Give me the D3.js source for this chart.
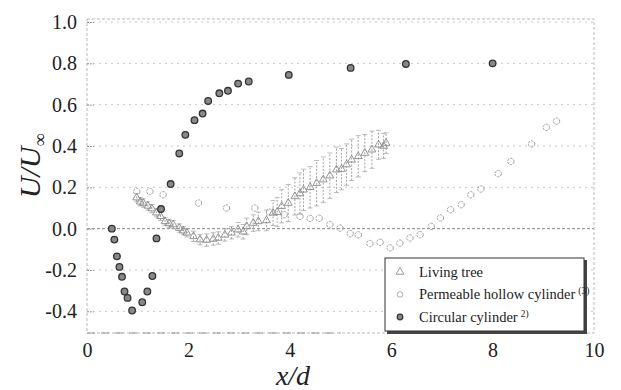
<!DOCTYPE html>
<html><head><meta charset="utf-8">
<script src="https://cdn.jsdelivr.net/npm/d3@7/dist/d3.min.js"></script>
<style>body{margin:0;background:#fff}svg{display:block}svg text{font-family:"Liberation Serif","Times New Roman","DejaVu Serif",serif}</style>
</head><body>
<svg id="c" width="621" height="390"></svg>
<script>
// Living tree (triangles) with error bars
const treeX = [0.98,1.05,1.11,1.20,1.28,1.37,1.45,1.54,1.62,1.70,1.82,1.90,1.97,2.10,2.23,2.36,2.49,2.59,2.72,2.85,2.98,3.08,3.15,3.28,3.38,3.54,3.67,3.75,3.84,3.97,4.10,4.20,4.27,4.40,4.53,4.66,4.79,4.92,5.02,5.12,5.22,5.35,5.48,5.62,5.75,5.85,5.90];
const treeY = [0.15,0.13,0.124,0.11,0.097,0.077,0.06,0.035,0.025,0.02,0.003,-0.01,-0.02,-0.037,-0.053,-0.055,-0.05,-0.045,-0.03,-0.02,-0.005,-0.015,0.011,0.027,0.035,0.04,0.076,0.08,0.108,0.124,0.156,0.17,0.188,0.20,0.22,0.237,0.256,0.285,0.288,0.31,0.333,0.35,0.366,0.382,0.406,0.40,0.414];
const treeErr = [0.02,0.02,0.02,0.02,0.02,0.02,0.02,0.02,0.02,0.02,0.02,0.02,0.02,0.025,0.025,0.03,0.03,0.03,0.03,0.03,0.035,0.035,0.04,0.04,0.045,0.05,0.06,0.07,0.08,0.09,0.09,0.1,0.1,0.1,0.11,0.11,0.11,0.11,0.1,0.1,0.1,0.1,0.09,0.09,0.07,0.06,0.05];
// Permeable hollow cylinder (open circles)
const hollowX = [0.98,1.24,1.50,2.20,2.75,3.31,3.60,3.89,4.20,4.40,4.58,4.79,4.99,5.19,5.35,5.58,5.78,5.98,6.17,6.37,6.57,6.79,6.97,7.17,7.38,7.57,7.77,8.11,8.36,8.77,9.06,9.26];
const hollowY = [0.18,0.18,0.164,0.124,0.10,0.10,0.08,0.068,0.06,0.05,0.05,0.02,0.003,-0.024,-0.03,-0.072,-0.066,-0.093,-0.07,-0.045,-0.029,0.011,0.052,0.092,0.116,0.164,0.192,0.266,0.325,0.41,0.49,0.52];
// Circular cylinder (filled circles)
const circX = [0.49,0.54,0.59,0.64,0.69,0.74,0.80,0.89,1.09,1.19,1.29,1.37,1.46,1.65,1.82,1.94,2.12,2.28,2.39,2.61,2.78,2.98,3.19,3.98,5.20,6.29,8.0];
const circY = [0.0,-0.053,-0.134,-0.185,-0.233,-0.304,-0.335,-0.396,-0.356,-0.304,-0.229,-0.047,0.095,0.216,0.364,0.454,0.525,0.557,0.618,0.655,0.667,0.702,0.712,0.744,0.778,0.797,0.80];
const xTicks = [0,2,4,6,8,10];
const yTicks = [-0.4,-0.2,0.0,0.2,0.4,0.6,0.8,1.0];
const legendLabels = ["Living tree","Permeable hollow cylinder","Circular cylinder"];
const legendSups = ["","(3)","2)"];

const svg = d3.select("#c");
const L=87,R=594,T=19,B=333;
const x = d3.scaleLinear().domain([0,10]).range([L,R]);
const y = d3.scaleLinear().domain([-0.5,1.0]).range([332,22]);

// grid
svg.append("g").selectAll("line").data(yTicks).join("line")
  .attr("x1",L).attr("x2",R).attr("y1",d=>y(d)).attr("y2",d=>y(d))
  .attr("stroke",d=>d===0?"#888":"#c8c8c8").attr("stroke-width",1)
  .attr("stroke-dasharray",d=>d===0?"3,2":"2,4");
// frame
svg.append("rect").attr("x",L).attr("y",T).attr("width",R-L).attr("height",B-T)
  .attr("fill","none").attr("stroke","#b8b8b8").attr("stroke-dasharray","3,2");
svg.append("line").attr("x1",L).attr("x2",(R+L)/2).attr("y1",B).attr("y2",B).attr("stroke","#999").attr("stroke-dasharray","8,6");

// axes
const yAxis = d3.axisLeft(y).tickValues(yTicks).tickSize(-7).tickPadding(10);
const gy = svg.append("g").attr("transform",`translate(${L},0)`).call(yAxis);
gy.attr("font-family",null);
gy.select(".domain").remove();
gy.selectAll(".tick line").attr("stroke","#999").attr("stroke-dasharray","2,1");
gy.selectAll("text").attr("font-size",20).attr("fill","#222")
  .text(d=>d3.format(".1f")(d).replace("−","-"));
const xAxis = d3.axisBottom(x).tickValues(xTicks).tickFormat(d3.format("d")).tickSize(0).tickPadding(10);
const gx = svg.append("g").attr("transform",`translate(0,${B})`).call(xAxis);
gx.attr("font-family",null);
gx.select(".domain").remove();
gx.selectAll("text").attr("font-size",20).attr("fill","#222");

// axis titles
svg.append("text").attr("x",293).attr("y",385).attr("text-anchor","middle")
  .attr("font-style","italic").attr("font-size",28).attr("fill","#222").text("x/d");
const yt = svg.append("text").attr("transform","translate(40,166) rotate(-90)").attr("text-anchor","middle")
  .attr("font-style","italic").attr("font-size",30).attr("fill","#222");
yt.append("tspan").text("U/U");
yt.append("tspan").attr("font-size",18).attr("dy",6).attr("font-style","normal").text("∞");

// error bars
const tree = treeX.map((v,i)=>({x:v,y:treeY[i],e:treeErr[i]}));
svg.append("g").selectAll("g").data(tree).join("g").each(function(d){
  const g=d3.select(this);
  g.append("line").attr("x1",x(d.x)).attr("x2",x(d.x)).attr("y1",y(d.y-d.e)).attr("y2",y(d.y+d.e))
    .attr("stroke","#9a9a9a").attr("stroke-width",0.9).attr("stroke-dasharray","2,1.5");
  [d.y-d.e,d.y+d.e].forEach(v=>g.append("line").attr("x1",x(d.x)-2.5).attr("x2",x(d.x)+2.5).attr("y1",y(v)).attr("y2",y(v))
    .attr("stroke","#aaa").attr("stroke-width",0.8));
});
const tri = d3.symbol().type(d3.symbolTriangle).size(26);
svg.append("g").selectAll("path").data(tree).join("path")
  .attr("d",tri).attr("transform",d=>`translate(${x(d.x)},${y(d.y)})`)
  .attr("fill","none").attr("stroke","#8a8a8a").attr("stroke-width",0.9);

// open circles
svg.append("g").selectAll("circle").data(hollowX.map((v,i)=>({x:v,y:hollowY[i]}))).join("circle")
  .attr("cx",d=>x(d.x)).attr("cy",d=>y(d.y)).attr("r",3.2)
  .attr("fill","none").attr("stroke","#a0a0a0").attr("stroke-width",1).attr("stroke-dasharray","2.5,1");

// filled circles
svg.append("g").selectAll("circle").data(circX.map((v,i)=>({x:v,y:circY[i]}))).join("circle")
  .attr("cx",d=>x(d.x)).attr("cy",d=>y(d.y)).attr("r",3.3)
  .attr("fill","#888").attr("stroke","#333").attr("stroke-width",1.3);

// legend
const lg = svg.append("g").attr("transform","translate(385,258)");
lg.append("rect").attr("x",2).attr("y",2).attr("width",200).attr("height",74).attr("fill","#444");
lg.append("rect").attr("width",199).attr("height",73).attr("fill","#fff").attr("stroke","#333").attr("stroke-width",1);
legendLabels.forEach((t,i)=>{
  const cy = 14+i*22.5;
  if(i===0) lg.append("path").attr("d",tri).attr("transform",`translate(15,${cy})`).attr("fill","none").attr("stroke","#999");
  if(i===1) lg.append("circle").attr("cx",15).attr("cy",cy).attr("r",2.8).attr("fill","none").attr("stroke","#aaa");
  if(i===2) lg.append("circle").attr("cx",15).attr("cy",cy).attr("r",2.8).attr("fill","#888").attr("stroke","#333").attr("stroke-width",1.2);
  const tx = lg.append("text").attr("x",34).attr("y",cy+4.5).attr("font-size",14.5).attr("fill","#222").text(t);
  if(legendSups[i]) tx.append("tspan").attr("dx",3).attr("dy",-5).attr("font-size",9.5).text(legendSups[i]);
});
</script>
</body></html>
